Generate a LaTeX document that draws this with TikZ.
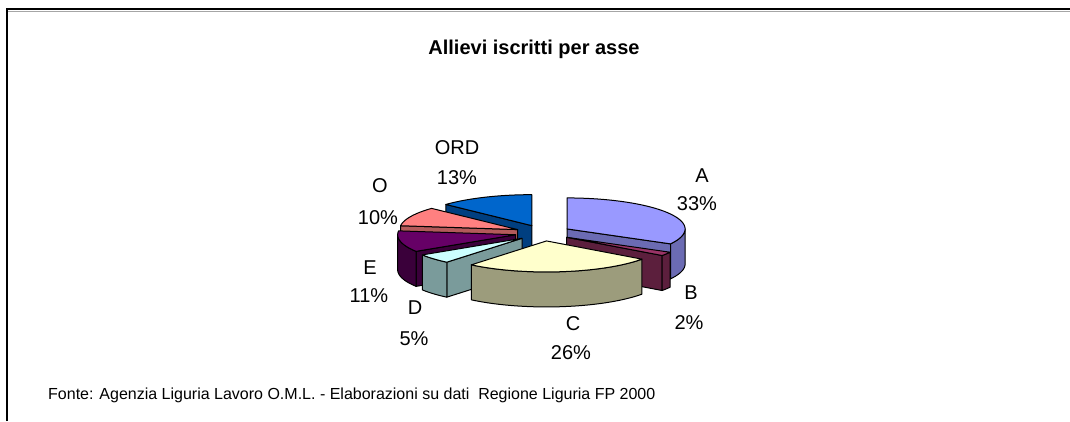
\documentclass[tikz,border=0pt]{standalone}
\usepackage{fontspec}
\setmainfont{Liberation Sans}
\begin{document}
\begin{tikzpicture}[x=1pt,y=-1pt,
  face/.style={draw=black,line width=1pt,line join=round},
  lbl/.style={font=\fontsize{20}{22}\selectfont,anchor=base,inner sep=0pt}]
\useasboundingbox (0,0) rectangle (1070,421);
% frame
\draw[gray!70,line width=1pt] (8,11.5) -- (1070,11.5);
\draw[black,line width=2pt] (7,421) -- (7,9) -- (1070,9);
% slice macro: #1 start, #2 end, #3 top, #4 side, #5 start face vis, #6 end face vis, #7 rim start, #8 rim end
\newcommand\slc[8]{%
  \pgfmathsetmacro\sm{(#1+#2)/2}%
  \pgfmathsetmacro\stx{543+28*sin(\sm)}%
  \pgfmathsetmacro\sty{233-8*cos(\sm)}%
  \ifnum#5=1
    \filldraw[face,fill=#4] ({\stx+118*sin(#1)},{\sty-31*cos(#1)}) -- ++(0,35) -- ({\stx},{\sty+35}) -- ({\stx},{\sty}) -- cycle;
  \fi
  \ifnum#6=1
    \filldraw[face,fill=#4] ({\stx+118*sin(#2)},{\sty-31*cos(#2)}) -- ++(0,35) -- ({\stx},{\sty+35}) -- ({\stx},{\sty}) -- cycle;
  \fi
  \ifdim#7pt<#8pt
    \filldraw[face,fill=#4] plot[domain=#7:#8,samples=40] ({\stx+118*sin(\x)},{\sty-31*cos(\x)}) -- plot[domain=#8:#7,samples=40] ({\stx+118*sin(\x)},{\sty+35-31*cos(\x)}) -- cycle;
  \fi
  \filldraw[face,fill=#3] ({\stx},{\sty}) -- plot[domain=#1:#2,samples=40] ({\stx+118*sin(\x)},{\sty-31*cos(\x)}) -- cycle;
}
\definecolor{cA}{HTML}{9999FF}\definecolor{sA}{HTML}{6B6BB3}
\definecolor{cB}{HTML}{993366}\definecolor{sB}{HTML}{5C1F3D}
\definecolor{cC}{HTML}{FFFFCC}\definecolor{sC}{HTML}{9C9C7C}
\definecolor{cD}{HTML}{CCFFFF}\definecolor{sD}{HTML}{7A9B9B}
\definecolor{cE}{HTML}{660066}\definecolor{sE}{HTML}{3A003A}
\definecolor{cO}{HTML}{FF8080}\definecolor{sO}{HTML}{B35A5A}
\definecolor{cR}{HTML}{0066CC}\definecolor{sR}{HTML}{003F80}
\slc{313.2}{360}{cR}{sR}{1}{0}{0}{0}
\slc{0}{118.8}{cA}{sA}{0}{1}{90}{118.8}
\slc{277.2}{313.2}{cO}{sO}{1}{0}{0}{0}
\slc{237.6}{277.2}{cE}{sE}{1}{0}{237.6}{270}
\slc{118.8}{126}{cB}{sB}{0}{1}{118.8}{126}
\slc{219.6}{237.6}{cD}{sD}{1}{0}{219.6}{237.6}
\slc{126}{219.6}{cC}{sC}{0}{0}{126}{219.6}
% title and labels
\node[font=\bfseries\fontsize{20}{24}\selectfont,anchor=base,inner sep=0pt] (title) at (534,54) {Allievi iscritti per asse};
\node[lbl] (lORD) at (457,154) {ORD};
\node[lbl] (pORD) at (457,184) {13\%};
\node[lbl] (lO) at (380,192) {O};
\node[lbl] (pO) at (378,224) {10\%};
\node[lbl] (lE) at (370,274) {E};
\node[lbl] (pE) at (369,302) {11\%};
\node[lbl] (lD) at (415,314) {D};
\node[lbl] (pD) at (414,345) {5\%};
\node[lbl] (lC) at (573,330) {C};
\node[lbl] (pC) at (571,359) {26\%};
\node[lbl] (lB) at (691,299) {B};
\node[lbl] (pB) at (689,329) {2\%};
\node[lbl] (lA) at (702,182) {A};
\node[lbl] (pA) at (697,210) {33\%};
\node[font=\fontsize{16}{18}\selectfont,anchor=base west,inner sep=0pt] (src) at (48,399) {Fonte: Agenzia Liguria Lavoro O.M.L. - Elaborazioni su dati\ \ Regione Liguria FP 2000};
\end{tikzpicture}
\end{document}
